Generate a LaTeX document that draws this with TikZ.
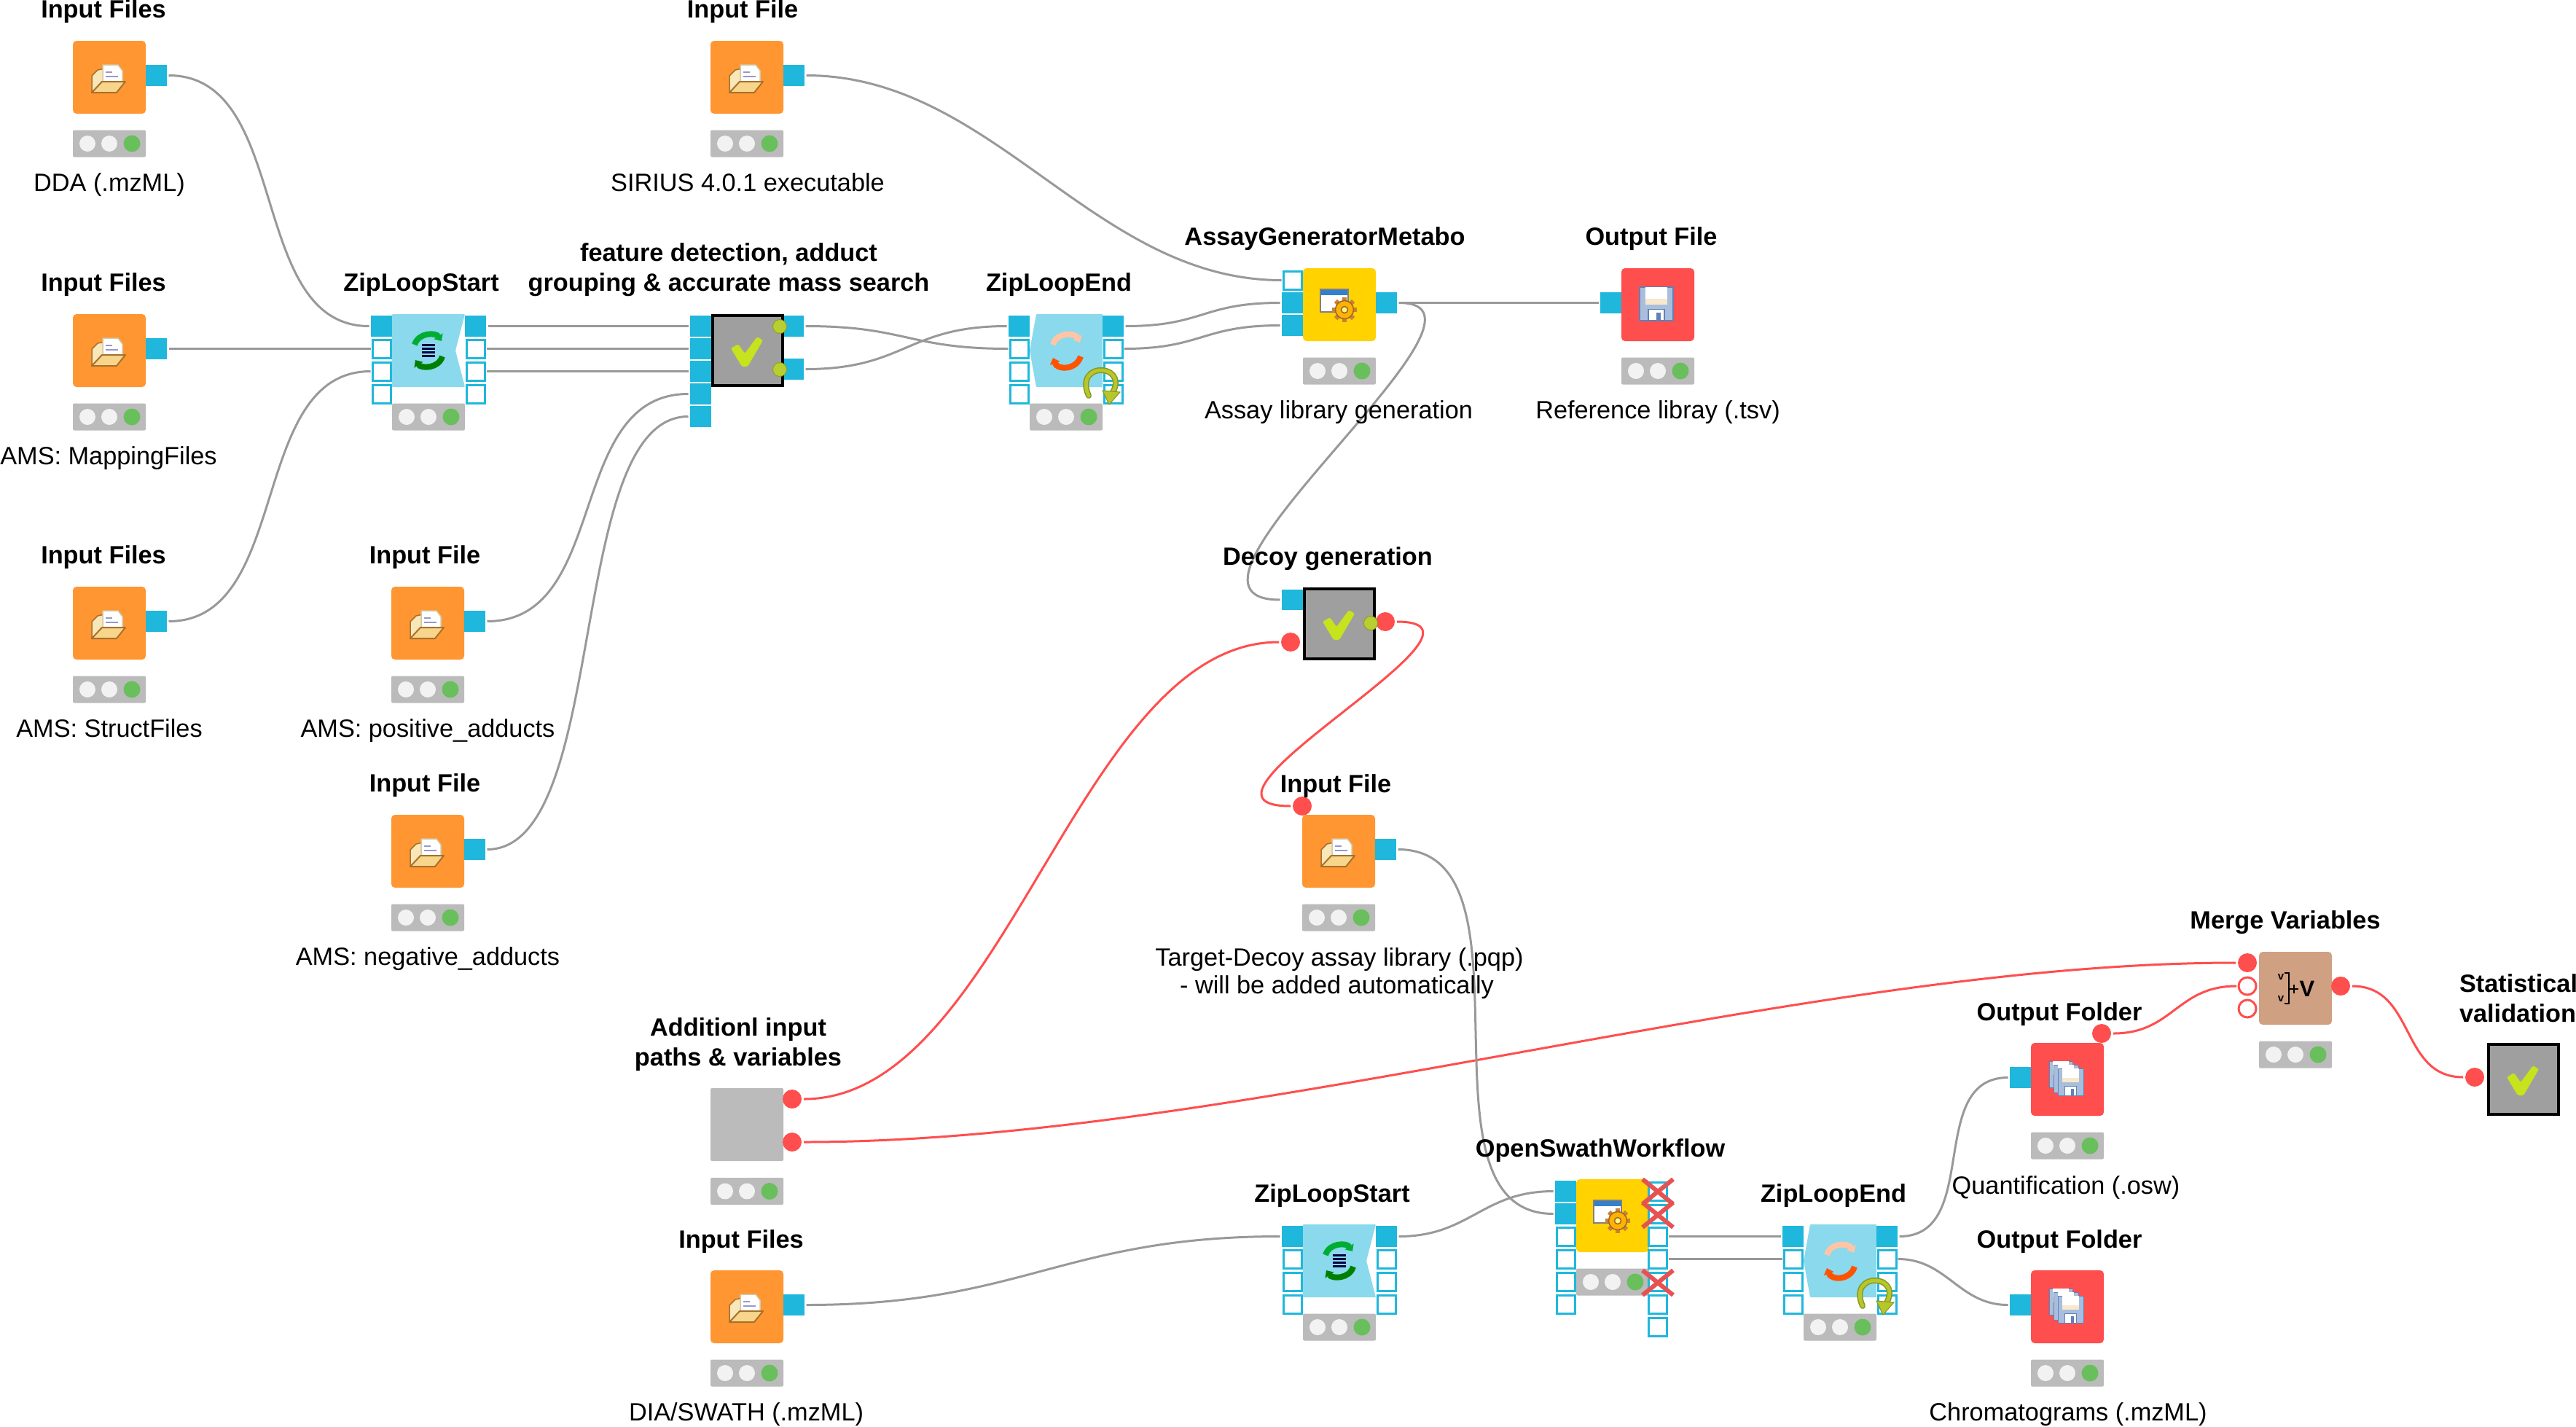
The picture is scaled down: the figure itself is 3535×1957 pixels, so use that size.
\documentclass[tikz,border=0pt]{standalone}
\usepackage{fontspec}
\setmainfont{Liberation Sans}
\usetikzlibrary{arrows.meta}
\pgfdeclarelayer{paper}\pgfdeclarelayer{wires}
\pgfsetlayers{paper,wires,main}
\definecolor{cport}{HTML}{1FB8DC}
\definecolor{corange}{HTML}{FF9632}
\definecolor{cyellow}{HTML}{FFD200}
\definecolor{cred}{HTML}{FF4E4E}
\definecolor{cloop}{HTML}{8BD9EC}
\definecolor{cmeta}{HTML}{9F9F9F}
\definecolor{ctan}{HTML}{CFA082}
\definecolor{ctl}{HTML}{BBBBBB}
\definecolor{cwhite}{HTML}{F2F2F2}
\definecolor{cgreen}{HTML}{69BF5C}
\definecolor{ccheck}{HTML}{C6E31E}
\definecolor{cwire}{HTML}{999999}
\definecolor{cbad}{HTML}{E65252}
\definecolor{colive}{HTML}{B5C72B}
\definecolor{cfbody}{HTML}{A9BEDD}
\definecolor{cfline}{HTML}{5F82B8}
\definecolor{cflab}{HTML}{F6E9CC}
\definecolor{cflap}{HTML}{F7D68C}
\definecolor{cfold}{HTML}{A9702C}
\definecolor{cfback}{HTML}{F8E7B8}
\newcommand{\tlightbox}{%
  \node[tlbox] (-tl) at (50,141) {};
  \fill[cwhite] (20,141) circle[radius=11];
  \fill[cwhite] (50,141) circle[radius=11];
  \fill[cgreen] (81,141) circle[radius=11.5];
}
\newcommand{\foldericon}{%
  \filldraw[fill=cfback,draw=cfold,line width=1.5] (26,48) -- (34,40) -- (44,38) -- (44,64) -- (26,71) -- cycle;
  \filldraw[fill=white,draw=cfback!70!gray,line width=1.5] (41,33) -- (62,33) -- (68,41) -- (68,60) -- (41,60) -- cycle;
  \draw[blue!35!gray!60!white,line width=2] (45,43) -- (54,43) (45,49) -- (62,49);
  \filldraw[fill=cflap,draw=cfold,line width=2,line join=round] (26,71) -- (40,56) -- (72,56) -- (60,71) -- cycle;
}
\newcommand{\gearicon}{%
  \filldraw[fill=white,draw=gray,line width=2] (24,29) rectangle (62,60);
  \fill[blue!50!cyan!60!gray] (25,30) rectangle (61,37);
  \foreach \a in {0,45,...,315}
    \draw[brown!80!orange,line width=6] (57,57) -- ++(\a:17);
  \filldraw[fill=orange!60!yellow,draw=brown!80!black,line width=1.5] (57,57) circle[radius=12.5];
  \filldraw[fill=yellow!50!white,draw=brown!80!black,line width=1.5] (57,57) circle[radius=4.5];
}
\newcommand{\floppyicon}[5]{% x0 y0 x1 y1 line
  \begin{scope}[shift={(#1,#2)}]
    \filldraw[fill=cfbody,draw=cfline,line width=#5] (0,0) rectangle (#3,#4);
    \fill[cflab] (0.17*#3,0) rectangle (0.83*#3,0.52*#4);
    \fill[white] (0.17*#3,0) rectangle (0.83*#3,0.34*#4);
    \filldraw[fill=white,draw=cfline,line width=#5] (0.26*#3,0.66*#4) rectangle (0.74*#3,#4);
    \fill[cfline] (0.5*#3,0.76*#4) rectangle (0.64*#3,#4);
  \end{scope}
}
\newcommand{\checkicon}{%
  \fill[ccheck,rounded corners=2] (27,47) -- (37,41) -- (46,54) -- (63,31) -- (71,36) -- (50,72) -- (42,72) -- cycle;
}
\tikzset{
  x=1pt,y=-1pt,
  every node/.append style={inner sep=0,outer sep=0},
  body/.style={minimum width=100,minimum height=100,rounded corners=5},
  metabody/.style={minimum width=96,minimum height=96,draw=black,line width=4,fill=cmeta},
  tlbox/.style={minimum width=100,minimum height=37,rounded corners=2,fill=ctl},
  pfull/.style={minimum width=29,minimum height=28.5,fill=cport},
  pempty/.style={minimum width=25,minimum height=25,draw=cport,line width=3,fill=white},
  rdot/.style={circle,minimum size=26,fill=cred},
  rring/.style={circle,minimum size=24,fill=white,draw=cred,line width=3},
  ydot/.style={circle,minimum size=19,fill=ccheck!80!gray,draw=colive!80!black,line width=1},
  ttl/.style={anchor=base,font=\fontsize{34.3}{41}\selectfont\bfseries,align=center},
  captxt/.style={anchor=base,font=\fontsize{34.3}{37.5}\selectfont,align=center},
  conn/.style={line width=3,draw=cwire,shorten <=2.5,shorten >=2.5},
  rconn/.style={line width=3,draw=cred,shorten <=3,shorten >=3},
  reader/.pic={
    \node[body,fill=corange] (-body) at (50,50) {};
    \foldericon
    \node[pfull] (-out) at (114.5,47.5) {};
    \tlightbox
  },
  writer/.pic={
    \node[body,fill=cred] (-body) at (50,50) {};
    \floppyicon{25}{26}{46}{46}{1.5}
    \node[pfull] (-in) at (-14.5,47.5) {};
    \tlightbox
  },
  folderwriter/.pic={
    \node[body,fill=cred] (-body) at (50,50) {};
    \floppyicon{25}{25}{32}{36}{1}
    \floppyicon{31}{30}{34}{38}{1}
    \floppyicon{37}{35}{35}{37}{1}
    \node[pfull] (-in) at (-14.5,47.5) {};
    \tlightbox
  },
  loopports/.pic={
    \node[pfull]  (-i1) at (-14.5,16.5) {};
    \node[pempty] (-i2) at (-14.5,47.5) {};
    \node[pempty] (-i3) at (-14.5,78.5) {};
    \node[pempty] (-i4) at (-14.5,109.5) {};
    \node[pfull]  (-o1) at (114.5,16.5) {};
    \node[pempty] (-o2) at (114.5,47.5) {};
    \node[pempty] (-o3) at (114.5,78.5) {};
    \node[pempty] (-o4) at (114.5,109.5) {};
  },
  zipstart/.pic={
    \fill[cloop,rounded corners=1] (0,0) -- (100,0) -- (87,50) -- (100,100) -- (0,100) -- cycle;
    \node[minimum size=1] (-body) at (50,50) {};
    \draw[line width=8,draw=green!60!black!80!cyan,-{Triangle[length=8,width=14]}] (31,42) .. controls (36,25) and (60,25) .. (68,37);
    \draw[line width=8,draw=green!50!black,-{Triangle[length=8,width=14]}] (69,58) .. controls (64,75) and (40,75) .. (32,63);
    \foreach \v in {42,47,52,57}
      \draw[line width=3,draw=black!75!blue] (41,\v) -- (59,\v);
    \tlightbox
  },
  zipend/.pic={
    \fill[cloop,rounded corners=1] (9,0) -- (100,0) -- (100,100) -- (9,100) -- (0,50) -- cycle;
    \node[minimum size=1] (-body) at (50,50) {};
    \draw[line width=8,draw=red!30!orange!35!white,-{Triangle[length=8,width=14]}] (32,42) .. controls (36,25) and (62,25) .. (69,39);
    \draw[line width=8,draw=red!35!orange,-{Triangle[length=8,width=14]}] (70,58) .. controls (64,77) and (38,77) .. (32,60);
    \tlightbox
  },
  looparrow/.pic={
    \draw[line width=8,draw=colive!75!black,line cap=round] (81,112) .. controls (70,88) and (85,76) .. (99,77) .. controls (117,78) and (124,94) .. (112,110);
    \draw[line width=5,draw=colive,line cap=round] (81,112) .. controls (70,88) and (85,76) .. (99,77) .. controls (117,78) and (124,94) .. (112,110);
    \filldraw[fill=colive,draw=colive!75!black,line width=1] (100,105) -- (124,107) -- (109,124) -- cycle;
  },
  meta/.pic={
    \node[metabody] (-body) at (50,50) {};
    \checkicon
  },
  configmeta/.pic={
    \node[body,fill=cyellow] (-body) at (50,50) {};
    \gearicon
    \tlightbox
  },
}
\begin{document}
\begin{tikzpicture}
\useasboundingbox (0,0) rectangle (3535,1957);
\begin{pgfonlayer}{paper}
\fill[white] (0,0) rectangle (3535,1957);
\end{pgfonlayer}
% readers
\pic (dda) at (100,56) {reader};
\pic (map) at (100,431) {reader};
\pic (str) at (100,805) {reader};
\pic (sir) at (975,56) {reader};
\pic (pos) at (537,805) {reader};
\pic (neg) at (537,1118) {reader};
\pic (tgt) at (1787,1118) {reader};
\pic (dia) at (975,1743) {reader};
% zip loop 1
\pic (zs) at (538,431) {zipstart};
\pic (zs) at (538,431) {loopports};
% feature meta node
\node[pfull] (fd-i1) at (961.5,447.5) {};
\node[pfull] (fd-i2) at (961.5,478.5) {};
\node[pfull] (fd-i3) at (961.5,509.5) {};
\node[pfull] (fd-i4) at (961.5,540.5) {};
\node[pfull] (fd-i5) at (961.5,571.5) {};
\node[pfull] (fd-o1) at (1088.5,447.5) {};
\node[pfull] (fd-o2) at (1088.5,506.5) {};
\pic (fd) at (976,431) {meta};
\node[ydot] (fd-d1) at (1070,448) {};
\node[ydot] (fd-d2) at (1070,507) {};
\pic (ze) at (1413,431) {zipend};
\pic (ze) at (1413,431) {loopports};
\pic at (1413,431) {looparrow};
% assay
\pic (ag) at (1788,368) {configmeta};
\node[pempty] (ag-i1) at (1773.5,384.5) {};
\node[pfull] (ag-i2) at (1773.5,415.5) {};
\node[pfull] (ag-i3) at (1773.5,446.5) {};
\node[pfull] (ag-o1) at (1902.5,415.5) {};
\pic (ref) at (2225,368) {writer};
% decoy
\node[pfull] (dc-i1) at (1773.5,823) {};
\node[rdot] (dc-v1) at (1771,881) {};
\node[rdot] (dc-v2) at (1901,853) {};
\pic (dc) at (1788,806) {meta};
\node[ydot] (dc-d1) at (1881,855) {};
\node[rdot] (tgt-v) at (1787,1106) {};
% additional
\node[body,fill=ctl,rounded corners=2] (av-body) at (1025,1543) {};
\node[tlbox] (av-tl) at (1025,1634.5) {};
\fill[cwhite] (995,1634.5) circle[radius=11];
\fill[cwhite] (1025,1634.5) circle[radius=11];
\fill[cgreen] (1056,1634.5) circle[radius=11.5];
\node[rdot] (av-v1) at (1087,1508) {};
\node[rdot] (av-v2) at (1087,1567) {};
% zip loop 2
\pic (zt) at (1788,1680) {zipstart};
\pic (zt) at (1788,1680) {loopports};
% OpenSwath
\pic (os) at (2163,1618) {configmeta};
\node[pfull]  (os-i1) at (2148.5,1634.5) {};
\node[pfull]  (os-i2) at (2148.5,1665.5) {};
\node[pempty] (os-i3) at (2148.5,1696.5) {};
\node[pempty] (os-i4) at (2148.5,1727.5) {};
\node[pempty] (os-i5) at (2148.5,1758.5) {};
\node[pempty] (os-i6) at (2148.5,1789.5) {};
\node[pempty] (os-o1) at (2275,1634.5) {};
\node[pempty] (os-o2) at (2275,1665.5) {};
\node[pempty] (os-o3) at (2275,1696.5) {};
\node[pempty] (os-o4) at (2275,1727.5) {};
\node[pempty] (os-o5) at (2275,1758.5) {};
\node[pempty] (os-o6) at (2275,1789.5) {};
\node[pempty] (os-o7) at (2275,1820.5) {};
\foreach \v in {1635,1667,1760}
  \draw[cbad,line width=6] (2254,\v-17) -- (2296,\v+17) (2254,\v+17) -- (2296,\v-17);
% zip end 2
\pic (zf) at (2475,1680) {zipend};
\pic (zf) at (2475,1680) {loopports};
\pic at (2475,1680) {looparrow};
% output folders
\pic (of) at (2787,1431) {folderwriter};
\node[rdot] (of-v) at (2884,1418) {};
\pic (og) at (2787,1743) {folderwriter};
% merge
\node[body,fill=ctan] (mv-body) at (3150,1356) {};
\node[tlbox] (mv-tl) at (3150,1447) {};
\fill[cwhite] (3120,1447) circle[radius=11];
\fill[cwhite] (3150,1447) circle[radius=11];
\fill[cgreen] (3181,1447) circle[radius=11.5];
\node[font=\fontsize{15}{15}\selectfont\bfseries] (mv-a) at (3130,1341) {v};
\node[font=\fontsize{15}{15}\selectfont\bfseries] (mv-b) at (3130,1371) {v};
\draw[black,line width=2.5] (3135,1335) -- (3141,1335) -- (3141,1377) -- (3135,1377);
\draw[black,line width=2.5] (3142,1357) -- (3154,1357) (3148,1351) -- (3148,1363);
\node[font=\fontsize{31}{31}\selectfont\bfseries] (mv-c) at (3166,1357) {V};
\node[rdot] (mv-i1) at (3084,1321) {};
\node[rring] (mv-i2) at (3084,1353) {};
\node[rring] (mv-i3) at (3084,1384) {};
\node[rdot] (mv-o) at (3212,1353) {};
% statistical
\pic (sv) at (3413,1431) {meta};
\node[rdot] (sv-v) at (3396,1478) {};
% wires
\begin{pgfonlayer}{wires}
\draw[conn] (dda-out.east) .. controls +(172,0) and +(-171,0) .. (zs-i1.west);
\draw[conn] (map-out.east) -- (zs-i2.west);
\draw[conn] (str-out.east) .. controls +(172,0) and +(-171,0) .. (zs-i3.west);
\draw[conn] (zs-o1.east) -- (fd-i1.west);
\draw[conn] (zs-o2.east) -- (fd-i2.west);
\draw[conn] (zs-o3.east) -- (fd-i3.west);
\draw[conn] (pos-out.east) .. controls +(172,0) and +(-172,0) .. (fd-i4.west);
\draw[conn] (neg-out.east) .. controls +(172,0) and +(-172,0) .. (fd-i5.west);
\draw[conn] (fd-o1.east) .. controls +(140,0) and +(-140,0) .. (ze-i2.west);
\draw[conn] (fd-o2.east) .. controls +(140,0) and +(-140,0) .. (ze-i1.west);
\draw[conn] (ze-o1.east) .. controls +(110,0) and +(-110,0) .. (ag-i2.west);
\draw[conn] (ze-o2.east) .. controls +(110,0) and +(-110,0) .. (ag-i3.west);
\draw[conn] (sir-out.east) .. controls +(260,0) and +(-260,0) .. (ag-i1.west);
\draw[conn] (ag-o1.east) -- (ref-in.west);
\draw[conn] (ag-o1.east) .. controls +(178,0) and +(-200,0) .. (dc-i1.west);
\draw[rconn] (dc-v2.east) .. controls +(172,0) and +(-183,0) .. (tgt-v.west);
\draw[rconn] (av-v1.east) .. controls +(280,0) and +(-280,0) .. (dc-v1.west);
\draw[rconn] (av-v2.east) .. controls +(600,0) and +(-600,0) .. (mv-i1.west);
\draw[rconn] (of-v.east) .. controls +(85,0) and +(-85,0) .. (mv-i2.west);
\draw[rconn] (mv-o.east) .. controls +(90,0) and +(-90,0) .. (sv-v.west);
\draw[conn] (tgt-out.east) .. controls +(205,0) and +(-205,0) .. (os-i2.west);
\draw[conn] (dia-out.east) .. controls +(300,0) and +(-300,0) .. (zt-i1.west);
\draw[conn] (zt-o1.east) .. controls +(100,0) and +(-100,0) .. (os-i1.west);
\draw[conn] (os-o3.east) -- (zf-i1.west);
\draw[conn] (os-o4.east) -- (zf-i2.west);
\draw[conn] (zf-o1.east) .. controls +(116,0) and +(-116,0) .. (of-in.west);
\draw[conn] (zf-o2.east) .. controls +(70,0) and +(-70,0) .. (og-in.west);
\end{pgfonlayer}
% labels
\node[ttl] (l1) at (142,24) {Input Files};
\node[captxt] (l2) at (150,262) {DDA (.mzML)};
\node[ttl] (l3) at (142,399) {Input Files};
\node[captxt] (l4) at (149,637) {AMS: MappingFiles};
\node[ttl] (l5) at (142,773) {Input Files};
\node[captxt] (l6) at (150,1011) {AMS: StructFiles};
\node[ttl] (l7) at (1019,24) {Input File};
\node[captxt] (l8) at (1026,262) {SIRIUS 4.0.1 executable};
\node[ttl] (l9) at (578,399) {ZipLoopStart};
\node[ttl,anchor=south] (l10) at (1000,407) {feature detection, adduct\\grouping \& accurate mass search};
\node[ttl] (l11) at (1453,399) {ZipLoopEnd};
\node[ttl] (l12) at (583,773) {Input File};
\node[captxt] (l13) at (587,1011) {AMS: positive\_adducts};
\node[ttl] (l14) at (583,1086) {Input File};
\node[captxt] (l15) at (587,1324) {AMS: negative\_adducts};
\node[ttl] (l16) at (1818,336) {AssayGeneratorMetabo};
\node[captxt] (l17) at (1837,574) {Assay library generation};
\node[ttl] (l18) at (2266,336) {Output File};
\node[captxt] (l19) at (2275,574) {Reference libray (.tsv)};
\node[ttl] (l20) at (1822,775) {Decoy generation};
\node[ttl] (l21) at (1833,1087) {Input File};
\node[captxt,anchor=north] (l22) at (1838,1301) {Target-Decoy assay library (.pqp)\\- will be added automatically\hspace*{7pt}};
\node[ttl,anchor=south] (l23) at (1013,1470) {Additionl input\\paths \& variables};
\node[ttl] (l24) at (1017,1712) {Input Files};
\node[captxt] (l25) at (1024,1949) {DIA/SWATH (.mzML)};
\node[ttl] (l26) at (1828,1649) {ZipLoopStart};
\node[ttl] (l27) at (2196,1587) {OpenSwathWorkflow};
\node[ttl] (l28) at (2516,1649) {ZipLoopEnd};
\node[ttl] (l29) at (2826,1400) {Output Folder};
\node[captxt] (l30) at (2835,1638) {Quantification (.osw)};
\node[ttl] (l31) at (2826,1712) {Output Folder};
\node[captxt] (l32) at (2838,1949) {Chromatograms (.mzML)};
\node[ttl] (l33) at (3136,1274) {Merge Variables};
\node[ttl,anchor=south west,align=left] (l34) at (3375,1403) {Statistical\\validation};
\end{tikzpicture}
\end{document}
